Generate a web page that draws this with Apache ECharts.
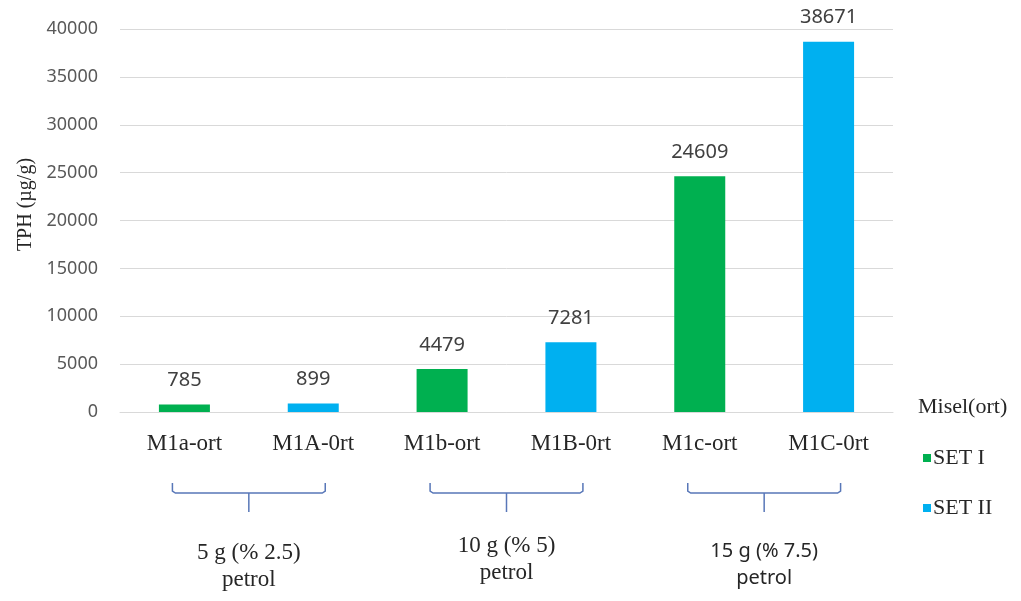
<!DOCTYPE html>
<html>
<head>
<meta charset="utf-8">
<script src="https://cdn.jsdelivr.net/npm/echarts@6/dist/echarts.min.js"></script>
<style>
  html, body { margin: 0; padding: 0; background: #ffffff; }
  #chart { width: 1021px; height: 601px; }
</style>
</head>
<body>
<div id="chart"></div>
<script>
// Sample codes on the x axis
const categories = ['M1a-ort', 'M1A-0rt', 'M1b-ort', 'M1B-0rt', 'M1c-ort', 'M1C-0rt'];
// TPH values (µg/g) per sample set
const setI  = [785, null, 4479, null, 24609, null];
const setII = [null, 899, null, 7281, null, 38671];
// Petrol dose groups, each spanning two adjacent samples
const groupStart = [0, 2, 4];
const groupLine1 = ['5 g (% 2.5)', '10 g (% 5)', '15 g (% 7.5)'];
const groupLine2 = ['petrol', 'petrol', 'petrol'];
const groupSerif = [true, true, false];
const groupTextY = [566, 559, 565];

const SERIF = '"Liberation Serif", "DejaVu Serif", serif';
const SANS = '"Noto Sans", "Open Sans", sans-serif';
const GREEN = '#00b050';
const BLUE = '#00b0f0';

const chart = echarts.init(document.getElementById('chart'), null, { renderer: 'canvas' });

const valueLabel = {
  show: true,
  position: 'top',
  distance: 14,
  fontFamily: SANS,
  fontSize: 20,
  color: '#404040',
  formatter: p => p.value
};

chart.setOption({
  animation: false,
  backgroundColor: '#ffffff',
  grid: { left: 120, right: 128, top: 29, bottom: 189, containLabel: false },
  legend: {
    orient: 'vertical',
    left: 918,
    top: 442,
    icon: 'rect',
    itemWidth: 8,
    itemHeight: 8,
    itemGap: 28,
    textStyle: { fontFamily: SERIF, fontSize: 22, color: '#262626', padding: [0, 0, 0, -3] },
    data: ['SET I', 'SET II']
  },
  xAxis: {
    type: 'category',
    data: categories,
    axisLine: { show: true, lineStyle: { color: '#d9d9d9', width: 1 } },
    axisTick: { show: false },
    axisLabel: { fontFamily: SERIF, fontSize: 23, color: '#262626', margin: 20 }
  },
  yAxis: {
    type: 'value',
    min: 0,
    max: 40000,
    interval: 5000,
    name: 'TPH (µg/g)',
    nameLocation: 'middle',
    nameGap: 84,
    nameTextStyle: { fontFamily: SERIF, fontSize: 20, color: '#262626', padding: [0, 0, 0, 32] },
    axisLine: { show: false },
    axisTick: { show: false },
    axisLabel: { fontFamily: SANS, fontSize: 18, color: '#595959', margin: 22, formatter: v => String(v) },
    splitLine: { lineStyle: { color: '#d9d9d9', width: 1 } }
  },
  series: [
    {
      name: 'SET I',
      type: 'bar',
      data: setI,
      barWidth: 51,
      barGap: '-100%',
      itemStyle: { color: GREEN },
      label: valueLabel
    },
    {
      name: 'SET II',
      type: 'bar',
      data: setII,
      barWidth: 51,
      barGap: '-100%',
      itemStyle: { color: BLUE },
      label: valueLabel
    }
  ]
});

// Brackets and dose captions under each pair of samples
const graphics = [{
  type: 'text',
  left: 918,
  top: 396,
  style: { text: 'Misel(ort)', fontFamily: SERIF, fontSize: 22, fill: '#262626' }
}];

groupStart.forEach((start, i) => {
  const x1 = chart.convertToPixel({ xAxisIndex: 0 }, categories[start]) - 12;
  const x2 = chart.convertToPixel({ xAxisIndex: 0 }, categories[start + 1]) + 12;
  const xm = (x1 + x2) / 2;
  const yTop = 483, yMid = 493, yStub = 512;
  graphics.push({
    type: 'polyline',
    shape: { points: [[x1, yTop], [x1, yMid - 2], [x1 + 3, yMid], [x2 - 3, yMid], [x2, yMid - 2], [x2, yTop]] },
    style: { stroke: '#5877b8', lineWidth: 1.5, fill: null }
  });
  graphics.push({
    type: 'line',
    shape: { x1: xm, y1: yMid, x2: xm, y2: yStub },
    style: { stroke: '#5877b8', lineWidth: 1.5 }
  });
  const fam = groupSerif[i] ? SERIF : SANS;
  const size = groupSerif[i] ? 23 : 20;
  graphics.push({
    type: 'text',
    x: xm,
    y: groupTextY[i],
    style: {
      text: groupLine1[i] + '\n' + groupLine2[i],
      fontFamily: fam,
      fontSize: size,
      lineHeight: 27,
      fill: '#262626',
      align: 'center',
      verticalAlign: 'middle'
    }
  });
});

chart.setOption({ graphic: graphics });
</script>
</body>
</html>
